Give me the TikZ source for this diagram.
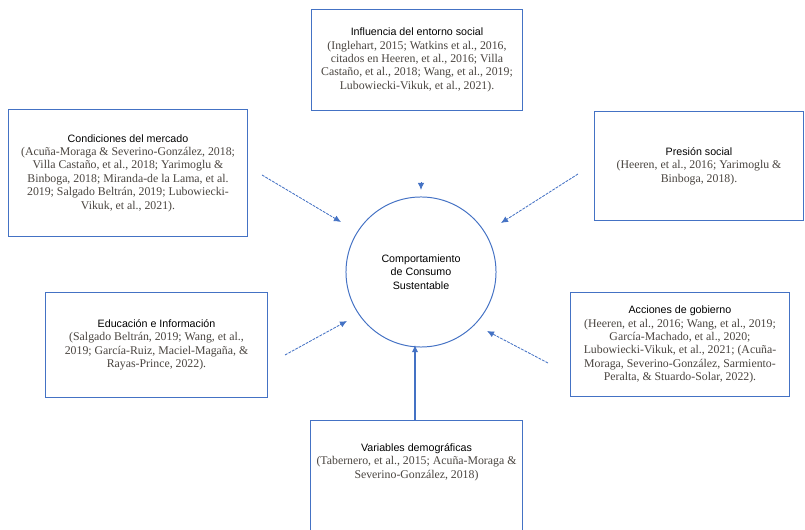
\documentclass[tikz,border=0pt]{standalone}
\usepackage{fontspec}
\setmainfont{Liberation Serif}
\setsansfont{Liberation Sans}
\usetikzlibrary{arrows.meta, positioning}
\definecolor{azul}{HTML}{4472C4}
\definecolor{cita}{HTML}{4A4540}
\newcommand{\titulo}[1]{{\sffamily\fontsize{7.6}{9.5}\selectfont\color{black}#1}}
\tikzstyle{caja} = [rectangle, draw=azul, line width=0.7pt, fill=white, align=center, text=cita, font=\fontsize{8.4}{9.5}\selectfont, inner sep=0pt]
\tikzstyle{flecha} = [azul, line width=0.6pt, dash pattern=on 2pt off 0.8pt, -{Latex[length=5pt,width=4.5pt]}]

\begin{document}
\begin{tikzpicture}[x=0.025cm, y=-0.025cm, >=Latex]
    \useasboundingbox (0,0) rectangle (805,530);

    % Centro
    \node (centro) [circle, draw=azul, line width=0.7pt, minimum size=3.75cm, align=center,
        font=\sffamily\fontsize{7.6}{9.5}\selectfont] at (421,272) {Comportamiento\\de Consumo\\Sustentable};

    % Factores
    \node (entorno) [caja, minimum width=5.25cm, minimum height=2.5cm] at (417,60)
        {\titulo{Influencia del entorno social}\\(Inglehart, 2015; Watkins et al., 2016,\\citados en Heeren, et al., 2016; Villa\\Castaño, et al., 2018; Wang, et al., 2019;\\Lubowiecki-Vikuk, et al., 2021).};
    \node (mercado) [caja, minimum width=5.95cm, minimum height=3.15cm] at (128,173)
        {\titulo{Condiciones del mercado}\\(Acuña-Moraga \& Severino-González, 2018;\\Villa Castaño, et al., 2018; Yarimoglu \&\\Binboga, 2018; Miranda-de la Lama, et al.\\2019; Salgado Beltrán, 2019; Lubowiecki-\\Vikuk, et al., 2021).};
    \node (presion) [caja, minimum width=5.2cm, minimum height=2.7cm] at (699,166)
        {\titulo{Presión social}\\(Heeren, et al., 2016; Yarimoglu \&\\Binboga, 2018).};
    \node (educacion) [caja, minimum width=5.525cm, minimum height=2.6cm] at (156.5,345)
        {\titulo{Educación e Información}\\(Salgado Beltrán, 2019; Wang, et al.,\\2019; García-Ruiz, Maciel-Magaña, \&\\Rayas-Prince, 2022).};
    \node (acciones) [caja, minimum width=5.45cm, minimum height=2.575cm] at (680,344.5)
        {\titulo{Acciones de gobierno}\\(Heeren, et al., 2016; Wang, et al., 2019;\\García-Machado, et al., 2020;\\Lubowiecki-Vikuk, et al., 2021; (Acuña-\\Moraga, Severino-González, Sarmiento-\\Peralta, \& Stuardo-Solar, 2022).};
    \node (variables) [caja, minimum width=5.275cm, minimum height=2.75cm] at (416.5,476)
        {\titulo{Variables demográficas}\\(Tabernero, et al., 2015; Acuña-Moraga \&\\Severino-González, 2018)\\[12pt]};

    % Extremos de flechas
    \coordinate (e1) at (421,182);
    \coordinate (e2) at (421,190);
    \coordinate (m1) at (262,175);
    \coordinate (m2) at (341,222);
    \coordinate (p1) at (578,174);
    \coordinate (p2) at (501,223);
    \coordinate (d1) at (285,355);
    \coordinate (d2) at (347,321);
    \coordinate (a1) at (548,363);
    \coordinate (a2) at (487,331);
    \coordinate (v2) at (415,345);

    % Flechas
    \draw [flecha] (e1) -- (e2);
    \draw [flecha] (m1) -- (m2);
    \draw [flecha] (p1) -- (p2);
    \draw [flecha] (d1) -- (d2);
    \draw [flecha] (a1) -- (a2);
    \draw [flecha, solid, line width=0.8pt] (variables.north -| v2) -- (v2);

\end{tikzpicture}
\end{document}
